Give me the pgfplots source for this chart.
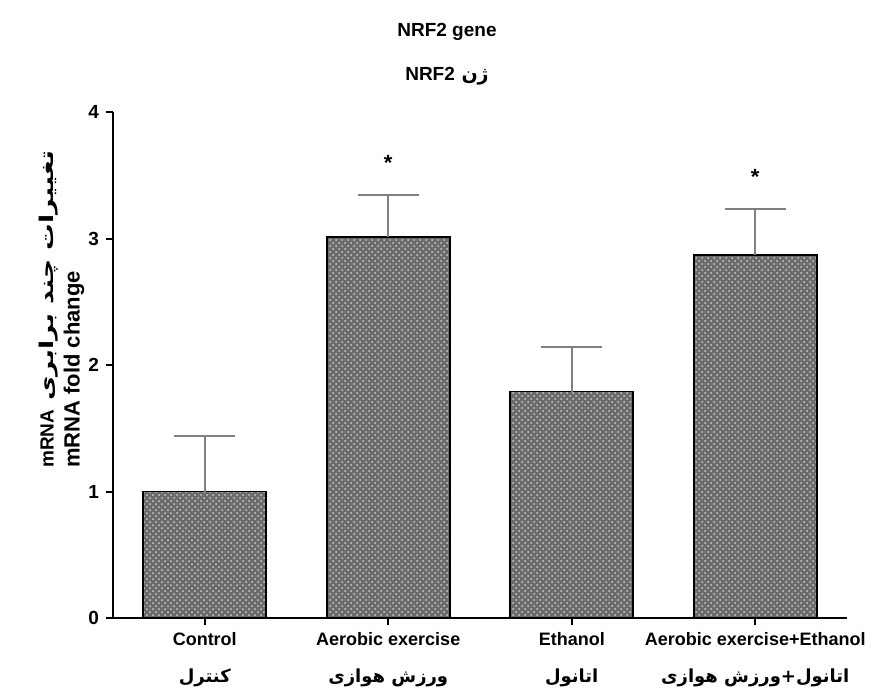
\documentclass[border=0pt]{standalone}
\usepackage{fontspec}
\setmainfont{Liberation Sans}
\newfontfamily\arabicfont[Script=Arabic]{DejaVu Sans}
\newfontfamily\arabicwide[Script=Arabic, FakeStretch=1.4]{DejaVu Sans}
\usepackage{pgfplots}
\pgfplotsset{compat=1.18}
\usetikzlibrary{patterns}
\TeXXeTstate=1

\begin{document}
\begin{tikzpicture}
\begin{axis}[
    scale only axis,
    width=367pt, height=253pt,
    xmin=-0.5, xmax=3.5, ymin=0, ymax=4,
    axis x line*=bottom, axis y line*=left,
    axis line style={line width=1pt},
    tick align=outside,
    major tick length=3.5pt,
    tick style={line width=1pt, black},
    xtick={0,1,2,3},
    xticklabels={
        {Control\\[7.5pt]{\arabicfont\bfseries\beginR کنترل\endR}},
        {Aerobic exercise\\[7.5pt]{\arabicfont\bfseries\beginR ورزش هوازی\endR}},
        {Ethanol\\[7.5pt]{\arabicfont\bfseries\beginR اتانول\endR}},
        {Aerobic exercise+Ethanol\\[7.5pt]{\arabicfont\bfseries\beginR اتانول+ورزش هوازی\endR}}},
    xticklabel style={align=center, font=\fontsize{9}{11}\selectfont\bfseries},
    ytick={0,1,2,3,4},
    yticklabel style={font=\fontsize{9.5}{11}\selectfont\bfseries},
    /pgf/number format/assume math mode=true,
    ylabel={{\fontsize{9.5}{11}\selectfont\arabicwide\bfseries\beginR تغییرات چند برابری \beginL{\rmfamily\bfseries mRNA}\endL\endR}\\[1pt]mRNA fold change},
    every axis y label/.style={at={(axis description cs:-0.07,0.61)}, rotate=90, anchor=center,
        align=left, font=\fontsize{11}{12}\selectfont\bfseries},
    title={NRF2 gene\\[11pt]{\arabicfont\bfseries\beginR ژن \beginL{\rmfamily\bfseries NRF2}\endL\endR}},
    title style={at={(axis description cs:0.455,1)}, anchor=south, yshift=4pt,
        align=center, font=\fontsize{9.5}{11}\selectfont\bfseries},
]
\addplot[ybar, bar width=0.67, draw=black, line width=0.8pt, fill=black!58,
    postaction={pattern=crosshatch dots, pattern color=black!20},
    error bars/.cd, y dir=plus, y explicit, error mark=|,
    error bar style={line width=1pt, draw=gray, solid},
    error mark options={line width=1pt, mark size=15.25pt, draw=gray, solid}]
    coordinates {(0,1.00) +- (0,0.44) (1,3.01) +- (0,0.33) (2,1.79) +- (0,0.35) (3,2.87) +- (0,0.36)};
\addplot[draw=none, mark=none, nodes near coords={*},
    every node near coord/.append style={anchor=center, font=\fontsize{11}{11}\selectfont\bfseries}]
    coordinates {(1,3.60) (3,3.49)};
\coordinate (bl) at (rel axis cs:0,0);
\coordinate (tr) at (rel axis cs:1,1);
\end{axis}
\pgfresetboundingbox
\path ([shift={(-56.5pt,-39pt)}]bl) rectangle ([shift={(22pt,56pt)}]tr);
\end{tikzpicture}
\end{document}
